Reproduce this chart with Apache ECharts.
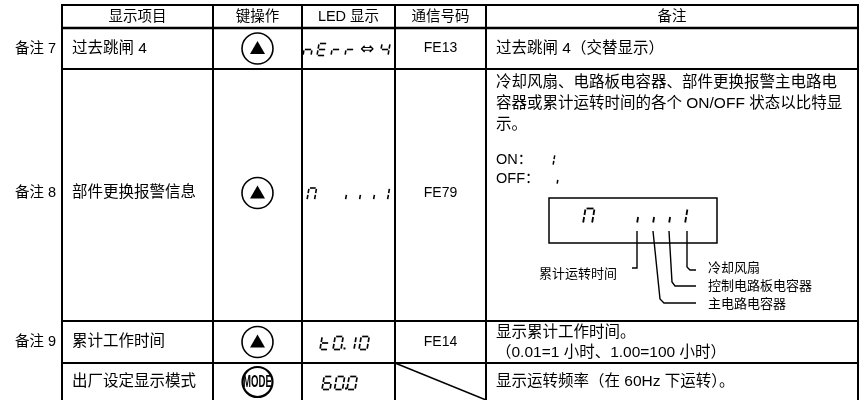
<!DOCTYPE html>
<html><head><meta charset="utf-8">
<script src="https://cdn.jsdelivr.net/npm/echarts@6/dist/echarts.min.js"></script>
<style>html,body{margin:0;padding:0;background:#fff}#c{width:860px;height:400px}</style>
</head><body><div id="c"></div>
<script>
// ---------- data ----------
const headers = ['显示项目', '键操作', 'LED 显示', '通信号码', '备注'];
const remarkTags = ['备注 7', '备注 8', '备注 9', ''];
const items = ['过去跳闸 4', '部件更换报警信息', '累计工作时间', '出厂设定显示模式'];
const keys = ['up', 'up', 'up', 'MODE'];
const ledCodes = ['nErr⇔4', 'N ,,,1', 't0.10', '60.0'];
const commCodes = ['FE13', 'FE79', 'FE14', ''];
const notes = [
  ['过去跳闸 4（交替显示）'],
  ['冷却风扇、电路板电容器、部件更换报警主电路电', '容器或累计运转时间的各个 ON/OFF 状态以比特显', '示。'],
  ['显示累计工作时间。', '（0.01=1 小时、1.00=100 小时）'],
  ['显示运转频率（在 60Hz 下运转）。']
];
const onOffLabels = ['ON：', 'OFF：'];
const onOffCodes = ['1', ','];
const bitBoxCode = 'N ,,,1';
const bitLabels = ['累计运转时间', '冷却风扇', '控制电路板电容器', '主电路电容器'];

// ---------- layout ----------
const colX = [62, 213, 302, 395, 486, 858];
const rowY = [5, 28, 69, 321, 363, 401];
const rowMid = [48.5, 193, 342, 382];
const FONT = "'Liberation Sans','Noto Sans CJK SC',sans-serif";
const els = [];

function txt(s, x, y, size, align, extra, styleExtra) {
  els.push(Object.assign({
    type: 'text', x: x, y: y, silent: true,
    style: Object.assign({ text: s, fill: '#000', fontSize: size, fontFamily: FONT, align: align || 'left', verticalAlign: 'middle' }, styleExtra || {})
  }, extra || {}));
}
function ln(x1, y1, x2, y2, w) {
  els.push({ type: 'line', silent: true, shape: { x1, y1, x2, y2 }, style: { stroke: '#000', lineWidth: w || 2 } });
}
function pl(points, w) {
  els.push({ type: 'polyline', silent: true, shape: { points }, style: { stroke: '#000', lineWidth: w || 1.4, fill: null } });
}

// seven-segment glyphs
const SEG = { '0': 'abcdef', '1': 'bc', '4': 'bcfg', '6': 'acdefg', 'E': 'adefg', 'r': 'eg', 'n': 'ceg', 'N': 'abcef', 't': 'defg', ',': 'c' };
function glyph(ch, x, yc, w, h, lw) {
  const top = yc - h / 2, g = lw * 0.55, sl = 0.17;
  const P = (px, py) => [x + px + (h - py) * sl, top + py];
  const d = {
    a: [[g, 0], [w - g, 0]], b: [[w, g], [w, h / 2 - g]], c: [[w, h / 2 + g], [w, h - g]],
    d: [[g, h], [w - g, h]], e: [[0, h / 2 + g], [0, h - g]], f: [[0, g], [0, h / 2 - g]], g: [[g, h / 2], [w - g, h / 2]]
  };
  for (const s of (SEG[ch] || '')) {
    const p1 = P(d[s][0][0], d[s][0][1]), p2 = P(d[s][1][0], d[s][1][1]);
    ln(p1[0], p1[1], p2[0], p2[1], lw);
  }
}
function led(str, x, yc, o) {
  let cx = x, prev = x;
  for (const ch of str) {
    if (ch === '.') {
      els.push({ type: 'rect', silent: true, shape: { x: prev + o.w + 2.5, y: yc + o.h / 2 - 2, width: 2, height: 2 }, style: { fill: '#000' } });
      continue;
    }
    if (ch === '⇔') {
      txt('⇔', cx + 8, yc, 17, 'center', {}, { fontFamily: "'DejaVu Sans',sans-serif" });
      cx += 21; continue;
    }
    if (ch === ' ') { cx += o.space; continue; }
    glyph(ch, cx, yc, o.w, o.h, o.lw);
    prev = cx;
    cx += o.pitch;
  }
}

// ---------- table grid ----------
ln(colX[0], rowY[0], colX[5], rowY[0], 2);
for (let i = 1; i < rowY.length - 1; i++) ln(colX[0], rowY[i], colX[5], rowY[i], i === 1 ? 2.5 : 2);
for (let j = 0; j < colX.length; j++) ln(colX[j], rowY[0] - 1, colX[j], rowY[rowY.length - 1], 2);

// headers
headers.forEach((h, j) => txt(h, (colX[j] + colX[j + 1]) / 2, 16.5, 14.5, 'center'));

// rows
const ledStart = [303, 307, 320, 322];
const ledOpt = [
  { w: 8, h: 12, pitch: 14, lw: 1.6, space: 14 },
  { w: 7.5, h: 12, pitch: 14, lw: 1.6, space: 17 },
  { w: 8, h: 13, pitch: 13, lw: 1.7, space: 14 },
  { w: 8, h: 13, pitch: 12.5, lw: 1.7, space: 14 }
];
const keyCx = (colX[1] + colX[2]) / 2;
for (let r = 0; r < 4; r++) {
  const y = rowMid[r];
  if (remarkTags[r]) txt(remarkTags[r], 56, y, 14.5, 'right');
  txt(items[r], 72, y, 15.5, 'left');
  // key circle
  if (keys[r] === 'up') {
    els.push({ type: 'circle', silent: true, shape: { cx: keyCx, cy: y, r: 15.5 }, style: { stroke: '#000', lineWidth: 1.6, fill: '#fff' } });
    els.push({ type: 'polygon', silent: true, shape: { points: [[keyCx, y - 7.5], [keyCx - 7.5, y + 5.5], [keyCx + 7.5, y + 5.5]] }, style: { fill: '#000' } });
  } else {
    els.push({ type: 'circle', silent: true, shape: { cx: keyCx, cy: y, r: 15 }, style: { stroke: '#000', lineWidth: 2.2, fill: '#fff' } });
    txt(keys[r], keyCx, y + 0.5, 16, 'center', { scaleX: 0.6, originX: 0, originY: 0 }, { fontWeight: 'bold' });
  }
  led(ledCodes[r], ledStart[r], y + 1, ledOpt[r]);
  if (commCodes[r]) txt(commCodes[r], (colX[3] + colX[4]) / 2, y, 14, 'center');
}
// diagonal in empty comm cell
ln(colX[3], rowY[4], colX[4], 400, 1.5);

// notes
const noteY = [[48.5], [83, 104, 125], [333, 353], [382]];
notes.forEach((ls, r) => ls.forEach((s, k) => txt(s, 496, noteY[r][k], 15.5, 'left')));

// ON / OFF legend
txt(onOffLabels[0], 496, 160, 14.5, 'left');
txt(onOffLabels[1], 496, 179, 14.5, 'left');
glyph(onOffCodes[0], 547, 160, 6, 11, 1.5);
glyph(onOffCodes[1], 551, 179, 6, 11, 1.5);

// bit box
els.push({ type: 'rect', silent: true, shape: { x: 549, y: 198, width: 168, height: 45 }, style: { stroke: '#000', lineWidth: 1.5, fill: null } });
led(bitBoxCode, 583, 216, { w: 9, h: 15, pitch: 16, lw: 1.8, space: 29 });
// leader lines
pl([[637, 231], [637, 268], [632, 268]]);
pl([[687, 231], [687, 267], [690, 270], [696, 270]]);
pl([[669, 231], [672, 282], [675, 286], [696, 286]]);
pl([[653, 231], [660, 299], [664, 303], [696, 303]]);
txt(bitLabels[0], 617, 274, 13, 'right');
txt(bitLabels[1], 708, 268, 13, 'left');
txt(bitLabels[2], 708, 286, 13, 'left');
txt(bitLabels[3], 708, 304, 13, 'left');

const chart = echarts.init(document.getElementById('c'), null, { renderer: 'canvas' });
chart.setOption({ animation: false, graphic: { elements: els } });
</script></body></html>
